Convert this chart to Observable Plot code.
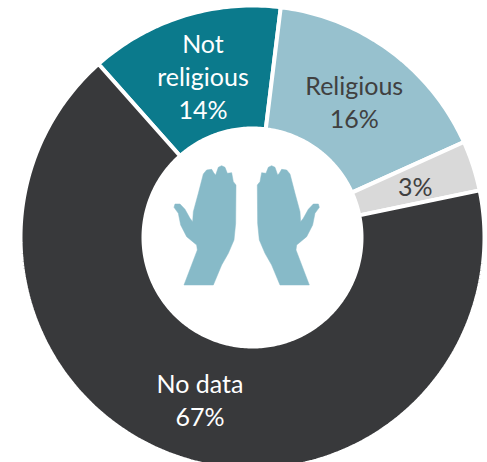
<!DOCTYPE html>
<html>
<head>
<meta charset="utf-8">
<script src="https://cdn.jsdelivr.net/npm/d3@7"></script>
<script src="https://cdn.jsdelivr.net/npm/@observablehq/plot@0.6"></script>
<style>html,body{margin:0;padding:0;background:#fff;overflow:hidden}svg{display:block}</style>
</head>
<body>
<div id="chart"></div>
<script>
const categories = ["Not religious", "Religious", "Other", "No data"];
const shares = [13.5, 16.3, 3.5, 66.7];
const labels = ["Not\nreligious\n14%", "Religious\n16%", "3%", "No data\n67%"];
const fills = ["#0b7a8c", "#97c1ce", "#d9d9d9", "#38393b"];
const textColors = ["#ffffff", "#404040", "#404040", "#ffffff"];
const startDeg = -41.6;
const handPath = [[102,405],[142,300],[140,285],[110,260],[92,225],[85,190],[72,172],[75,162],[90,162],[105,178],[120,205],[128,215],[130,185],[145,130],[160,72],[170,60],[185,58],[192,70],[197,75],[205,52],[215,47],[225,52],[232,70],[245,68],[250,95],[258,105],[257,220],[252,270],[235,310],[215,345],[190,405]];

const W = 487, H = 462, cx = 252, cy = 237, outer = 232, inner = 109, labelR = 170;
const pie = d3.pie().sort(null).value(d => d.share)
  .startAngle(startDeg * Math.PI / 180).endAngle((startDeg + 360) * Math.PI / 180);
const slices = pie(categories.map((c, i) => ({c, share: shares[i], label: labels[i], fill: fills[i], text: textColors[i]})));

const outline = slices.flatMap(s => {
  const n = Math.max(2, Math.ceil((s.endAngle - s.startAngle) * 60));
  const angles = d3.range(n + 1).map(i => s.startAngle + (s.endAngle - s.startAngle) * i / n);
  const at = (r, a) => ({c: s.data.c, fill: s.data.fill, x: r * Math.sin(a), y: r * Math.cos(a)});
  return [...angles.map(a => at(outer, a)), ...angles.reverse().map(a => at(inner, a))];
});
const labelRows = slices.map(s => {
  const a = (s.startAngle + s.endAngle) / 2;
  return {label: s.data.label, text: s.data.text, x: labelR * Math.sin(a) + 1, y: labelR * Math.cos(a) - 0.5};
});

function hands() {
  const line = d3.line().curve(d3.curveLinearClosed);
  const g = d3.create("svg:g").attr("fill", "#87bac8").attr("stroke", "#87bac8").attr("stroke-width", 1.5).attr("stroke-linejoin", "round");
  g.append("path").attr("transform", "translate(150,150) scale(0.3333)").attr("d", line(handPath));
  g.append("path").attr("transform", "translate(150,150) scale(0.3333) translate(580,0) scale(-1,1)").attr("d", line(handPath));
  return g.node();
}

const chart = Plot.plot({
  width: W, height: H, margin: 0,
  style: {background: "#fff", fontFamily: "Lato, sans-serif"},
  x: {domain: [-cx, W - cx], range: [0, W], axis: null},
  y: {domain: [-(H - cy), cy], range: [H, 0], axis: null},
  marks: [
    Plot.line(outline, {x: "x", y: "y", z: "c", fill: "fill", stroke: "#fff", strokeWidth: 4, curve: "linear-closed", strokeLinejoin: "miter"}),
    hands,
    Plot.text(labelRows, {x: "x", y: "y", text: "label", fill: "text", fontSize: 25, lineHeight: 1.32, lineAnchor: "middle", textAnchor: "middle", style: {letterSpacing: "1.8px"}})
  ]
});
document.getElementById("chart").append(chart);
</script>
</body>
</html>
